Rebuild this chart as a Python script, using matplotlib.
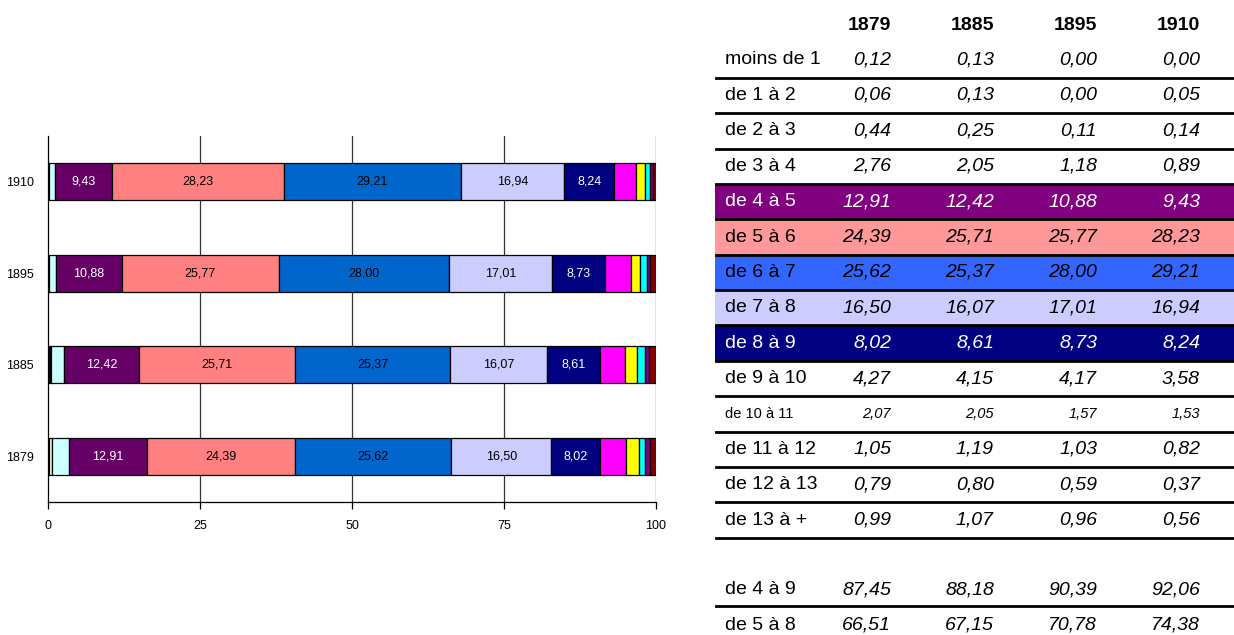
"""Répartition par classes (stacked bars) + tableau des pourcentages"""
# Third Party Imports
import matplotlib
matplotlib.use('Agg')
import matplotlib.pyplot as plt
from matplotlib.patches import Rectangle
from matplotlib.lines import Line2D

plt.rcParams['font.family'] = ['Liberation Sans', 'DejaVu Sans']

# %% Data
years = ['1879', '1885', '1895', '1910']
classes = ['moins de 1', 'de 1 à 2', 'de 2 à 3', 'de 3 à 4', 'de 4 à 5', 'de 5 à 6',
           'de 6 à 7', 'de 7 à 8', 'de 8 à 9', 'de 9 à 10', 'de 10 à 11',
           'de 11 à 12', 'de 12 à 13', 'de 13 à +']
v1879 = [0.12, 0.06, 0.44, 2.76, 12.91, 24.39, 25.62, 16.50, 8.02, 4.27, 2.07, 1.05, 0.79, 0.99]
v1885 = [0.13, 0.13, 0.25, 2.05, 12.42, 25.71, 25.37, 16.07, 8.61, 4.15, 2.05, 1.19, 0.80, 1.07]
v1895 = [0.00, 0.00, 0.11, 1.18, 10.88, 25.77, 28.00, 17.01, 8.73, 4.17, 1.57, 1.03, 0.59, 0.96]
v1910 = [0.00, 0.05, 0.14, 0.89, 9.43, 28.23, 29.21, 16.94, 8.24, 3.58, 1.53, 0.82, 0.37, 0.56]
summary_labels = ['de 4 à 9', 'de 5 à 8']
summary_values = [[87.45, 88.18, 90.39, 92.06],
                  [66.51, 67.15, 70.78, 74.38]]

values = [v1879, v1885, v1895, v1910]

# colours of the chart segments (Excel default palette)
seg_colors = ['#9999FF', '#993366', '#FFFFCC', '#CCFFFF', '#660066', '#FF8080',
              '#0066CC', '#CCCCFF', '#000080', '#FF00FF', '#FFFF00', '#00FFFF',
              '#800080', '#800000']
labelled = [4, 5, 6, 7, 8]
white_text = [4, 8]

# highlighted rows of the table
band_colors = {4: '#800080', 5: '#FF9999', 6: '#3366FF', 7: '#CCCCFF', 8: '#000080'}

W, H = 1234, 635


def fx(x):
    return x / W


def fy(y):
    return 1 - y / H


def fmt(v):
    return f'{v:.2f}'.replace('.', ',')


fig = plt.figure(figsize=(W / 100, H / 100), dpi=100)

# %% Stacked bar chart
ax = fig.add_axes([fx(48), fy(502), fx(656) - fx(48), fy(136) - fy(502)])
for ii, year in enumerate(years):
    left = 0
    for jj, v in enumerate(values[ii]):
        ax.barh(ii, v, left=left, height=0.405, color=seg_colors[jj],
                edgecolor='black', linewidth=0.9, zorder=3)
        if jj in labelled:
            ax.text(left + v / 2, ii, fmt(v), ha='center', va='center', fontsize=9,
                    color='white' if jj in white_text else 'black', zorder=4)
        left += v

ax.set_xlim(0, 100)
ax.set_ylim(-0.5, 3.5)
ax.set_xticks([0, 25, 50, 75, 100])
ax.set_xticklabels(['0', '25', '50', '75', '100'], fontsize=9)
ax.set_yticks(range(len(years)))
ax.set_yticklabels(years, fontsize=9)
ax.tick_params(axis='y', length=0, pad=10)
ax.tick_params(axis='x', length=5, width=0.9, pad=8, direction='out')
for x in [25, 50, 75, 100]:
    ax.axvline(x, color='#333333', linewidth=0.9, zorder=1)
ax.spines['top'].set_visible(False)
ax.spines['right'].set_visible(False)
ax.spines['left'].set_linewidth(0.9)
ax.spines['bottom'].set_linewidth(0.9)

# %% Table
col_right = [891, 994, 1097, 1200]
label_x = 725
line_x0, line_x1 = 716, 1234
row0 = 60
pitch = 35.4

for kk, year in enumerate(years):
    fig.text(fx(col_right[kk]), fy(25), year, ha='right', va='center',
             fontsize=14, fontweight='bold')

for ii, name in enumerate(classes):
    yc = row0 + pitch * ii
    top = yc - pitch / 2
    if ii in band_colors:
        fig.add_artist(Rectangle((fx(line_x0 - 1), fy(top + pitch)), fx(line_x1) - fx(line_x0 - 1),
                                 pitch / H, transform=fig.transFigure,
                                 facecolor=band_colors[ii], edgecolor='none', zorder=1))
    color = 'white' if ii in (4, 8) else 'black'
    size = 10.5 if ii == 10 else 14
    fig.text(fx(label_x), fy(yc), name, ha='left', va='center', fontsize=size,
             color=color, zorder=3)
    for kk in range(len(years)):
        fig.text(fx(col_right[kk]), fy(yc), fmt(values[kk][ii]), ha='right', va='center',
                 fontsize=size, style='italic', color=color, zorder=3)
    fig.add_artist(Line2D([fx(line_x0), fx(line_x1)], [fy(yc + pitch / 2)] * 2,
                          transform=fig.transFigure, color='black', linewidth=2, zorder=2))

summary_y = [590, 625]
for ii, name in enumerate(summary_labels):
    fig.text(fx(label_x), fy(summary_y[ii]), name, ha='left', va='center', fontsize=14)
    for kk in range(len(years)):
        fig.text(fx(col_right[kk]), fy(summary_y[ii]), fmt(summary_values[ii][kk]),
                 ha='right', va='center', fontsize=14, style='italic')
fig.add_artist(Line2D([fx(line_x0), fx(line_x1)], [fy(606)] * 2,
                      transform=fig.transFigure, color='black', linewidth=2))

fig.savefig('out.png', dpi=100)
print('Done')
